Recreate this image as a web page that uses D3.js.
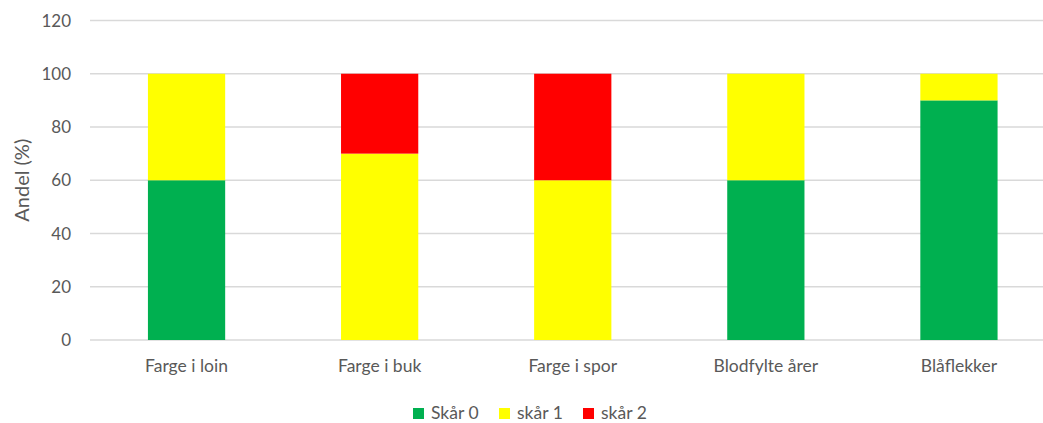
<!DOCTYPE html>
<html>
<head>
<meta charset="utf-8">
<script src="https://cdn.jsdelivr.net/npm/d3@7"></script>
<style>
  body { margin: 0; background: #fff; }
  text { font-family: Lato, "Open Sans", sans-serif; fill: #595959; }
</style>
</head>
<body>
<svg></svg>
<script>
var categories = ["Farge i loin", "Farge i buk", "Farge i spor", "Blodfylte årer", "Blåflekker"];
var seriesNames = ["Skår 0", "skår 1", "skår 2"];
var skar0 = [60, 0, 0, 60, 90];
var skar1 = [40, 70, 60, 40, 10];
var skar2 = [0, 30, 40, 0, 0];
var yTicks = [0, 20, 40, 60, 80, 100, 120];
var colors = ["#00B050", "#FFFF00", "#FF0000"];

var width = 1043, height = 423;
var margin = {left: 90, top: 20.5, bottom: 83};
var plotRight = 1055.5; // plot area runs past the picture edge

var rows = categories.map(function(c, i){
  return {cat: c, s0: skar0[i], s1: skar1[i], s2: skar2[i]};
});
var stack = d3.stack().keys(["s0", "s1", "s2"])(rows);

var svg = d3.select("svg").attr("width", width).attr("height", height);

var x = d3.scaleBand()
  .domain(categories)
  .range([margin.left, plotRight])
  .paddingInner(0.6)
  .paddingOuter(0.3);

var y = d3.scaleLinear()
  .domain([0, 120])
  .range([height - margin.bottom, margin.top]);

// gridlines
svg.append("g")
  .selectAll("line")
  .data(yTicks)
  .enter().append("line")
    .attr("x1", margin.left)
    .attr("x2", plotRight)
    .attr("y1", d => y(d))
    .attr("y2", d => y(d))
    .attr("stroke", "#d9d9d9")
    .attr("stroke-width", 1.5);

// y tick labels
svg.append("g")
  .selectAll("text")
  .data(yTicks)
  .enter().append("text")
    .attr("x", 71)
    .attr("y", d => y(d))
    .attr("dy", "0.36em")
    .attr("text-anchor", "end")
    .style("font-size", "17px")
    .text(d => d);

// bars
svg.append("g")
  .selectAll("g")
  .data(stack)
  .enter().append("g")
    .attr("fill", (d, i) => colors[i])
  .selectAll("rect")
  .data(d => d)
  .enter().append("rect")
    .attr("x", d => x(d.data.cat))
    .attr("width", x.bandwidth())
    .attr("y", d => y(d[1]))
    .attr("height", d => y(d[0]) - y(d[1]));

// category labels
svg.append("g")
  .selectAll("text")
  .data(categories)
  .enter().append("text")
    .attr("x", d => x(d) + x.bandwidth() / 2)
    .attr("y", 372)
    .attr("text-anchor", "middle")
    .style("font-size", "17.5px")
    .text(d => d);

// axis title
svg.append("text")
  .attr("transform", "translate(29," + y(60) + ") rotate(-90)")
  .attr("text-anchor", "middle")
  .style("font-size", "20px")
  .text("Andel (%)");

// legend
var legendX = [413, 499, 583];
var legend = svg.append("g")
  .selectAll("g")
  .data(seriesNames)
  .enter().append("g")
    .attr("transform", (d, i) => "translate(" + legendX[i] + ",408)");
legend.append("rect")
  .attr("width", 11)
  .attr("height", 11)
  .attr("fill", (d, i) => colors[i]);
legend.append("text")
  .attr("x", 18)
  .attr("y", 11)
  .style("font-size", "17.5px")
  .text(d => d);
</script>
</body>
</html>
